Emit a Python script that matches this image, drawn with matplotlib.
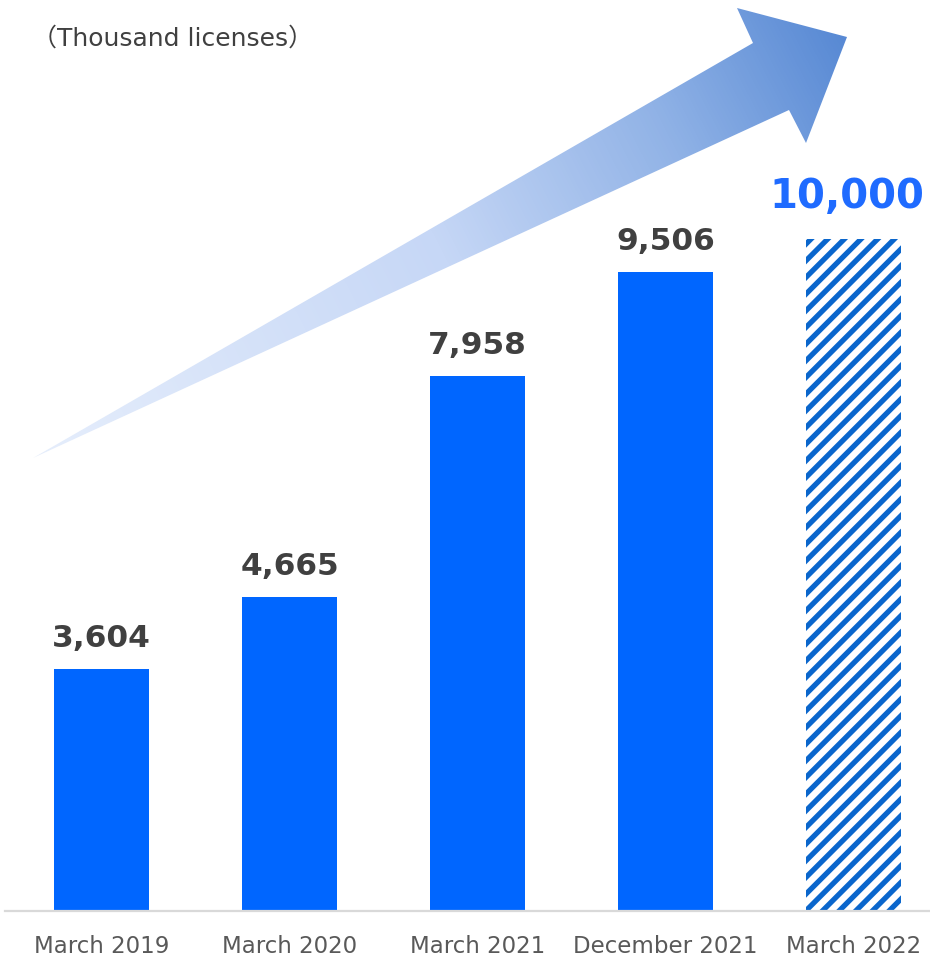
import numpy as np
import matplotlib
matplotlib.use("Agg")
import matplotlib.pyplot as plt
from matplotlib.colors import LinearSegmentedColormap
from matplotlib.patches import Polygon

# ---- data ----
categories = ["March 2019", "March 2020", "March 2021", "December 2021", "March 2022"]
values = [3604, 4665, 7958, 9506, 10000]
labels = ["3,604", "4,665", "7,958", "9,506", "10,000"]
forecast = [False, False, False, False, True]
unit_label = "（Thousand licenses）"

W, H = 930, 957
fig = plt.figure(figsize=(W / 100, H / 100), dpi=100)

# ---- decorative gradient arrow (figure pixel coordinates) ----
ov = fig.add_axes([0, 0, 1, 1], zorder=0)
ov.set_xlim(0, W)
ov.set_ylim(H, 0)
ov.axis("off")
arrow_pts = [(33, 458), (753, 43), (737, 8), (847, 37), (806, 143), (789, 110)]
poly = Polygon(arrow_pts, closed=True, facecolor="none", edgecolor="none")
ov.add_patch(poly)
xx, yy = np.meshgrid(np.arange(W), np.arange(H))
d = np.array([847 - 33, 37 - 458], dtype=float)
t = ((xx - 33) * d[0] + (yy - 458) * d[1]) / (d @ d)
t = np.clip(t, 0, 1)
cmap = LinearSegmentedColormap.from_list(
    "arr", [(0, "#e6eefc"), (0.5, "#c6d7f6"), (0.78, "#90b2e6"), (1, "#5889d4")])
im = ov.imshow(t, cmap=cmap, vmin=0, vmax=1, extent=(0, W, H, 0),
               interpolation="bilinear", zorder=1)
im.set_clip_path(poly)
ov.text(32, 39, unit_label, ha="left", va="center", fontsize=18,
        color="#404040", family=["DejaVu Sans", "Noto Sans CJK JP"])

# ---- bar chart ----
ax = fig.add_axes([5 / W, 46 / H, 925 / W, 911 / H], zorder=1)
ax.patch.set_alpha(0)
x = np.arange(len(categories))
plt.rcParams["hatch.linewidth"] = 3.8
for xi, v, lab, fc in zip(x, values, labels, forecast):
    if fc:
        ax.bar(xi, v, width=0.505, facecolor="white", edgecolor="#0a66cc",
               hatch="//", linewidth=0)
        ax.annotate(lab, (xi, v), xytext=(-5, 22), textcoords="offset points",
                    ha="center", va="baseline", fontsize=29, fontweight="bold",
                    color="#1f6bff")
    else:
        ax.bar(xi, v, width=0.505, color="#0066ff", linewidth=0)
        ax.annotate(lab, (xi, v), xytext=(0, 16), textcoords="offset points",
                    ha="center", va="baseline", fontsize=22.5, fontweight="bold",
                    color="#404040")

ax.set_xlim(-0.513, 4.407)
ax.set_ylim(0, 13552)
for s in ["top", "right", "left"]:
    ax.spines[s].set_visible(False)
ax.spines["bottom"].set_color("#d9d9d9")
ax.spines["bottom"].set_linewidth(1.6)
ax.set_yticks([])
ax.set_xticks(x)
ax.set_xticklabels(categories, fontsize=16.5, color="#595959")
ax.tick_params(axis="x", length=0, pad=17)

fig.savefig("out.png", dpi=100)
